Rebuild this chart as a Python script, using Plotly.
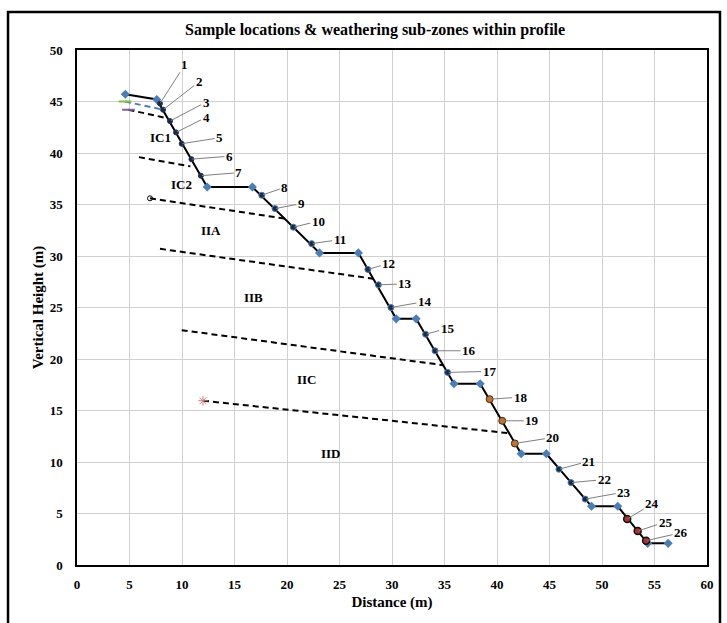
import plotly.graph_objects as go

# Profile corner points (blue diamonds)
profile_x = [4.6, 7.6, 12.4, 16.7, 23.1, 26.8, 30.4, 32.3, 35.9, 38.4, 42.3, 44.7, 49.0, 51.5, 54.35, 56.3]
profile_y = [45.7, 45.2, 36.7, 36.7, 30.3, 30.3, 23.9, 23.9, 17.6, 17.6, 10.8, 10.8, 5.7, 5.7, 2.1, 2.1]

# Sample locations
sample_ids = [str(i) for i in range(1, 27)]
sample_x = [7.9, 8.2, 8.86, 9.43, 9.97, 10.9, 11.8, 17.6, 18.86, 20.6, 22.35, 27.7, 28.7,
            29.9, 33.2, 34.1, 35.3, 39.3, 40.5, 41.7, 45.9, 47.05, 48.4, 52.4, 53.4, 54.2]
sample_y = [44.8, 44.2, 43.1, 42.0, 40.9, 39.4, 37.8, 35.9, 34.6, 32.8, 31.2, 28.7, 27.2,
            25.0, 22.4, 20.8, 18.7, 16.1, 14.0, 11.8, 9.3, 8.0, 6.4, 4.47, 3.3, 2.36]
sample_group = ["IC"] * 7 + ["II"] * 10 + ["IIC"] * 3 + ["IID"] * 3 + ["IIDr"] * 3

# Weathering sub-zone boundaries (start, end)
boundary_names = ["IC1 top a", "IC1 top b", "IC1/IC2", "IIA top", "IIB top", "IIC top", "IID top"]
boundary_x = [[4.57, 8.2], [4.9, 8.5], [5.9, 10.8], [6.95, 20.0], [7.9, 28.2], [9.97, 34.9], [12.0, 41.1]]
boundary_y = [[45.0, 44.2], [44.2, 43.4], [39.6, 38.7], [35.6, 33.6], [30.7, 27.8], [22.8, 19.4], [15.95, 12.8]]

# Sub-zone labels
zone_labels = ["IC1", "IC2", "IIA", "IIB", "IIC", "IID"]
zone_x = [7.97, 9.97, 12.8, 16.8, 21.9, 24.2]
zone_y = [41.5, 36.9, 32.45, 26.0, 18.0, 10.8]

x_ticks = [0, 5, 10, 15, 20, 25, 30, 35, 40, 45, 50, 55, 60]
y_ticks = [0, 5, 10, 15, 20, 25, 30, 35, 40, 45, 50]

# label offsets (pixels) for the callouts
label_dx = [25, 36, 36, 30, 38, 38, 38, 23, 26, 25, 28, 21, 27, 34, 22, 34, 42, 31, 30, 38, 30, 33, 39, 25, 28, 35]
label_dy = [-39, -28, -19, -15, -6, -3, -3, -8, -5, -6, -4, -6, -1, -6, -6, 0, -1, -2, 0, -6, -8, -3, -7, -15, -9, -8]

SERIF = "Liberation Serif, Times New Roman, serif"
BLUE = "#4a7ebb"

fig = go.Figure()

# boundaries
bstyles = [
    dict(color=BLUE, start="#7fbf3f"),
    dict(color="black", start="#8060a0"),
    dict(color="black", start=None),
    dict(color="black", start="open"),
    dict(color="black", start=None),
    dict(color="black", start=None),
    dict(color="black", start="star"),
]
for bx, by, st in zip(boundary_x, boundary_y, bstyles):
    fig.add_trace(go.Scatter(x=bx, y=by, mode="lines",
                             line=dict(color=st["color"], width=2, dash="6px,4px"),
                             hoverinfo="skip", showlegend=False))
    if st["start"] == "open":
        fig.add_trace(go.Scatter(x=[bx[0]], y=[by[0]], mode="markers",
                                 marker=dict(symbol="circle-open", size=5, color="black", line=dict(width=1)),
                                 showlegend=False, hoverinfo="skip"))
    elif st["start"] == "star":
        fig.add_trace(go.Scatter(x=[bx[0]], y=[by[0]], mode="markers",
                                 marker=dict(symbol="asterisk-open", size=8, color="#d08080", line=dict(width=1, color="#d08080")),
                                 showlegend=False, hoverinfo="skip"))
    elif st["start"]:
        fig.add_trace(go.Scatter(x=[bx[0]], y=[by[0]], mode="markers",
                                 marker=dict(symbol="line-ew", size=9, color=st["start"], line=dict(width=2, color=st["start"])),
                                 showlegend=False, hoverinfo="skip"))

# profile
fig.add_trace(go.Scatter(x=profile_x, y=profile_y, mode="lines+markers",
                         line=dict(color="black", width=2),
                         marker=dict(symbol="diamond", size=7, color=BLUE),
                         showlegend=False))

# samples
gstyle = {
    "IC": dict(color="#1a2a40", line=dict(width=1, color="#223355"), size=5),
    "II": dict(color="#1a2a40", line=dict(width=1, color="#4a7ebb"), size=6),
    "IIC": dict(color="#c8702a", line=dict(width=1, color="#3a2a1a"), size=7),
    "IID": dict(color="#1a2a40", line=dict(width=1, color="#4a7ebb"), size=6),
    "IIDr": dict(color="#b03030", line=dict(width=1.5, color="#111111"), size=7),
}
for g in ["IC", "II", "IIC", "IID", "IIDr"]:
    xs = [x for x, gg in zip(sample_x, sample_group) if gg == g]
    ys = [y for y, gg in zip(sample_y, sample_group) if gg == g]
    fig.add_trace(go.Scatter(x=xs, y=ys, mode="markers",
                             marker=dict(symbol="circle", **gstyle[g]),
                             showlegend=False))

annotations = []
for sid, sx, sy, dx, dy in zip(sample_ids, sample_x, sample_y, label_dx, label_dy):
    annotations.append(dict(x=sx, y=sy, xref="x", yref="y", text="<b>%s</b>" % sid,
                            showarrow=True, arrowhead=0, arrowwidth=1, arrowcolor="#7f7f7f",
                            ax=dx, ay=dy, standoff=1, startstandoff=0,
                            font=dict(family=SERIF, size=13, color="black")))
for zl, zx, zy in zip(zone_labels, zone_x, zone_y):
    annotations.append(dict(x=zx, y=zy, xref="x", yref="y", text="<b>%s</b>" % zl,
                            showarrow=False, font=dict(family=SERIF, size=13, color="black")))
annotations.append(dict(x=0.473, y=1.0388, xref="paper", yref="paper",
                        text="<b>Sample locations & weathering sub-zones within profile</b>",
                        showarrow=False, xanchor="center", yanchor="middle",
                        font=dict(family=SERIF, size=16, color="black")))

fig.update_layout(
    width=727, height=623,
    margin=dict(l=77, r=20, t=50, b=58),
    paper_bgcolor="white", plot_bgcolor="white",
    annotations=annotations,
    shapes=[dict(type="rect", xref="paper", yref="paper",
                 x0=-0.1095, x1=1.0206, y0=-0.2, y1=1.0738,
                 line=dict(color="black", width=2.5), layer="above")],
    font=dict(family=SERIF, color="black"),
)
fig.update_xaxes(range=[0, 60], tickvals=x_ticks, ticktext=["<b>%d</b>" % v for v in x_ticks],
                 showgrid=True, gridcolor="#d0d0d0", gridwidth=1,
                 showline=True, linecolor="black", linewidth=2, mirror=True, zeroline=False,
                 ticks="", ticklabelstandoff=6, tickfont=dict(family=SERIF, size=13, color="black"),
                 title=dict(text="<b>Distance (m)</b>", font=dict(family=SERIF, size=15, color="black"), standoff=6))
fig.update_yaxes(range=[0, 50], tickvals=y_ticks, ticktext=["<b>%d</b>" % v for v in y_ticks],
                 showgrid=True, gridcolor="#d0d0d0", gridwidth=1,
                 showline=True, linecolor="black", linewidth=1.5, mirror=True, zeroline=False,
                 ticks="", ticklabelstandoff=10, tickfont=dict(family=SERIF, size=13, color="black"),
                 title=dict(text="<b>Vertical Height (m)</b>", font=dict(family=SERIF, size=15, color="black"), standoff=2))

fig.write_html("out.html", config={"displayModeBar": False},
               post_script="document.body.style.margin='0';document.body.style.overflow='hidden';")
